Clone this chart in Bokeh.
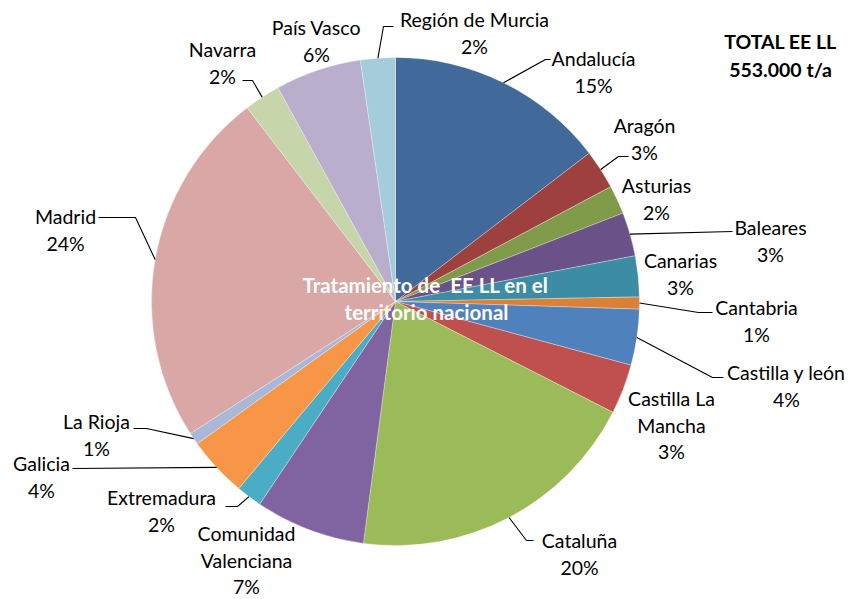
import math
from bokeh.plotting import figure
from bokeh.models import Range1d, ColumnDataSource
from bokeh.core.properties import value
from bokeh.embed import file_html
from bokeh.resources import INLINE

# ---------------- data ----------------
regions = ["Andalucía", "Aragón", "Asturias", "Baleares", "Canarias", "Cantabria",
           "Castilla y león", "Castilla La Mancha", "Cataluña", "Comunidad Valenciana",
           "Extremadura", "Galicia", "La Rioja", "Madrid", "Navarra", "País Vasco",
           "Región de Murcia"]
shares = [14.6, 2.6, 1.9, 2.9, 2.7, 0.8, 3.7, 3.3, 19.6, 7.3, 1.7, 4.0, 0.8, 23.7, 2.4, 5.7, 2.3]
pct_labels = ["15%", "3%", "2%", "3%", "3%", "1%", "4%", "3%", "20%", "7%",
              "2%", "4%", "1%", "24%", "2%", "6%", "2%"]
label_lines = [["Andalucía"], ["Aragón"], ["Asturias"], ["Baleares"], ["Canarias"],
               ["Cantabria"], ["Castilla y león"], ["Castilla La", "Mancha"], ["Cataluña"],
               ["Comunidad", "Valenciana"], ["Extremadura"], ["Galicia"], ["La Rioja"],
               ["Madrid"], ["Navarra"], ["País Vasco"], ["Región de Murcia"]]
colors = ["#416A9B", "#9E413E", "#7F9A48", "#6A5288", "#3C8DA3", "#DA8137",
          "#4F81BD", "#C0504D", "#9BBB59", "#8064A2", "#4BACC6", "#F79646",
          "#A9B8D9", "#D8A7A6", "#C7D6AA", "#B9AECB", "#A5CCDB"]
title_lines = ["Tratamiento de\u00a0 EE LL en el", "territorio nacional"]
total_lines = ["TOTAL EE LL", "553.000 t/a"]

# ---------------- layout (page pixel coordinates) ----------------
W, H = 848, 599
CX, CY, R = 395, 301, 244
LINE_H = 26.5
FONT = "19.5px"
# centre x and first-line y of each label
label_pos = [(593, 58), (644, 125), (656, 185), (770, 227), (680, 260), (756, 307),
             (786, 372), (671, 398), (579, 540), (246, 533), (161, 497), (41, 463),
             (96, 421), (65, 216), (222, 49), (316, 27), (474, 19)]
# leader line bends (None = no leader)
leader_pts = [[(545, 59), (550, 59)], [(618, 156), (628, 156)], None, [(732, 231)], None,
              [(698, 312), (712, 312)], [(712, 377), (723, 377)], None,
              [(526, 540), (533, 540)], None, [(237, 506), (225, 506)], [(72, 468)],
              [(146, 428), (133, 428)], [(135, 217), (98, 217)],
              [(252, 80), (242, 80)], None, [(383, 26), (393, 26)]]


def Y(y):
    return -y


p = figure(width=W, height=H, output_backend="svg", toolbar_location=None,
           x_range=Range1d(0, W), y_range=Range1d(Y(H), Y(0)),
           min_border=0, outline_line_color=None)
p.axis.visible = False
p.grid.visible = False
p.background_fill_color = "white"
p.border_fill_color = "white"

total = sum(shares)
starts, ends, mids = [], [], []
c = 0.0
for s in shares:
    a0 = c / total
    c += s
    a1 = c / total
    starts.append(math.pi / 2 - 2 * math.pi * a0)
    ends.append(math.pi / 2 - 2 * math.pi * a1)
    mids.append((a0 + a1) / 2)

src = ColumnDataSource(dict(start=starts, end=ends, color=colors, name=regions))
p.wedge(x=CX, y=Y(CY), radius=R, start_angle="start", end_angle="end",
        direction="clock", fill_color="color", line_color="white", line_width=0.6,
        line_alpha=0.5, source=src)

# leader lines
xs, ys = [], []
for m, pts in zip(mids, leader_pts):
    if pts is None:
        continue
    ang = 2 * math.pi * m
    sx = CX + R * math.sin(ang)
    sy = CY - R * math.cos(ang)
    lx = [sx] + [q[0] for q in pts]
    ly = [Y(sy)] + [Y(q[1]) for q in pts]
    xs.append(lx)
    ys.append(ly)
p.multi_line(xs, ys, line_color="black", line_width=1.1)

# labels
tx, ty, tt = [], [], []
for (lx, ly), lines, pct in zip(label_pos, label_lines, pct_labels):
    for i, t in enumerate(lines + [pct]):
        tx.append(lx)
        ty.append(Y(ly + i * LINE_H))
        tt.append(t)
p.text(x=tx, y=ty, text=tt, text_align="center", text_baseline="middle",
       text_font=value("Lato"), text_font_size=FONT, text_color="#000000")

# centre title
p.text(x=[425, 426], y=[Y(284), Y(311)], text=title_lines, text_align="center",
       text_baseline="middle", text_font=value("Lato"), text_font_size="20.5px",
       text_font_style="bold", text_color="white")

# total box
p.text(x=[780, 780], y=[Y(41), Y(69)], text=total_lines, text_align="center",
       text_baseline="middle", text_font=value("Lato"), text_font_size=FONT,
       text_font_style="bold", text_color="black")

open("out.html", "w").write(file_html(p, INLINE))
